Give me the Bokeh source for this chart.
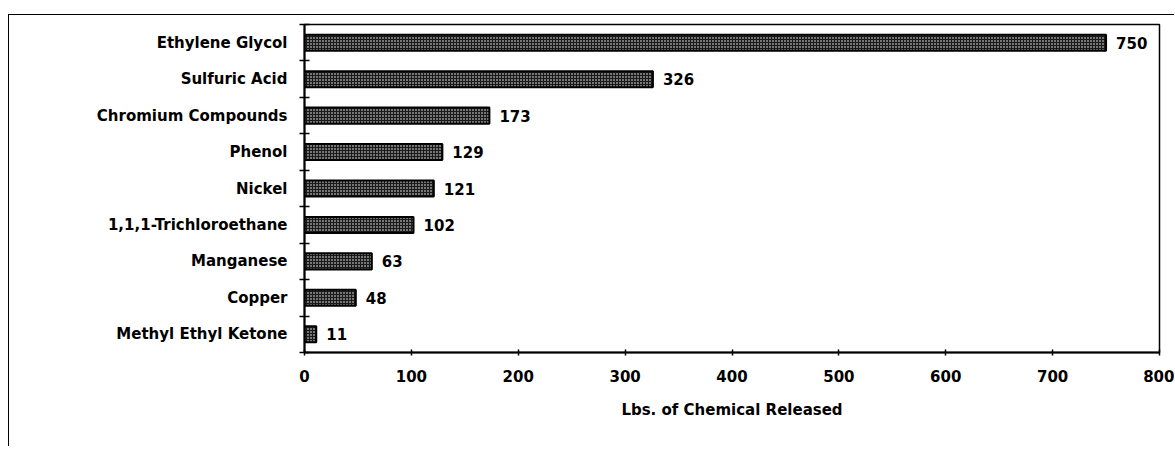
from bokeh.plotting import figure
from bokeh.models import Range1d, FixedTicker, ColumnDataSource
from bokeh.core.properties import value
from bokeh.embed import file_html
from bokeh.resources import INLINE

# ---- data ----
chemicals = ["Ethylene Glycol", "Sulfuric Acid", "Chromium Compounds", "Phenol",
             "Nickel", "1,1,1-Trichloroethane", "Manganese", "Copper",
             "Methyl Ethyl Ketone"]
pounds = [750, 326, 173, 129, 121, 102, 63, 48, 11]
x_ticks = [0, 100, 200, 300, 400, 500, 600, 700, 800]
x_title = "Lbs. of Chemical Released"

FONT = "DejaVu Sans"
n = len(chemicals)
pos = [i + 0.5 for i in range(n)]
src = ColumnDataSource(dict(chem=chemicals, lbs=pounds, pos=pos,
                            lab=[str(v) for v in pounds]))

p = figure(width=1166, height=432, output_backend="svg", toolbar_location=None,
           x_range=Range1d(0, 800), y_range=Range1d(n, 0),
           min_border_left=295, min_border_right=16, min_border_top=9,
           min_border_bottom=95)
p.styles = {"margin-top": "14px", "margin-left": "8px",
            "border-top": "1px solid #000", "border-left": "1px solid #000"}

p.hbar(y="pos", right="lbs", left=0, height=0.44, source=src,
       fill_color="#1a1a1a", line_color="black", line_width=2,
       hatch_pattern="dot", hatch_scale=3, hatch_weight=1.6,
       hatch_color="white")

p.text(x="lbs", y="pos", text="lab", source=src, x_offset=10,
       text_baseline="middle", text_align="left", text_color="black",
       text_font=value(FONT), text_font_style="bold", text_font_size="15px")

p.xgrid.visible = False
p.ygrid.visible = False
p.outline_line_color = "black"
p.outline_line_width = 1.5
p.background_fill_color = "white"
p.border_fill_color = "white"

# x axis
xa = p.xaxis[0]
xa.ticker = FixedTicker(ticks=x_ticks)
xa.axis_line_width = 2
xa.axis_line_color = "black"
xa.major_tick_in = 3
xa.major_tick_out = 3
xa.major_tick_line_width = 1.5
xa.minor_tick_line_color = None
xa.major_label_text_font = FONT
xa.major_label_text_font_style = "bold"
xa.major_label_text_font_size = "15px"
xa.major_label_text_color = "black"
xa.major_label_standoff = 14
xa.axis_label = x_title
xa.axis_label_text_font = FONT
xa.axis_label_text_font_style = "bold"
xa.axis_label_text_font_size = "15px"
xa.axis_label_text_color = "black"
xa.axis_label_standoff = 16

# y axis: labels at band centres, tick marks at band boundaries
ya = p.yaxis[0]
ya.ticker = FixedTicker(ticks=pos, minor_ticks=list(range(n + 1)))
ya.major_label_overrides = {p_: c for p_, c in zip(pos, chemicals)}
ya.major_tick_line_color = None
ya.major_tick_in = 0
ya.major_tick_out = 0
ya.minor_tick_in = 5
ya.minor_tick_out = 5
ya.minor_tick_line_color = "black"
ya.minor_tick_line_width = 1.5
ya.axis_line_width = 2
ya.axis_line_color = "black"
ya.major_label_text_font = FONT
ya.major_label_text_font_style = "bold"
ya.major_label_text_font_size = "15px"
ya.major_label_text_color = "black"
ya.major_label_standoff = 12

open("out.html", "w").write(file_html(p, INLINE))
